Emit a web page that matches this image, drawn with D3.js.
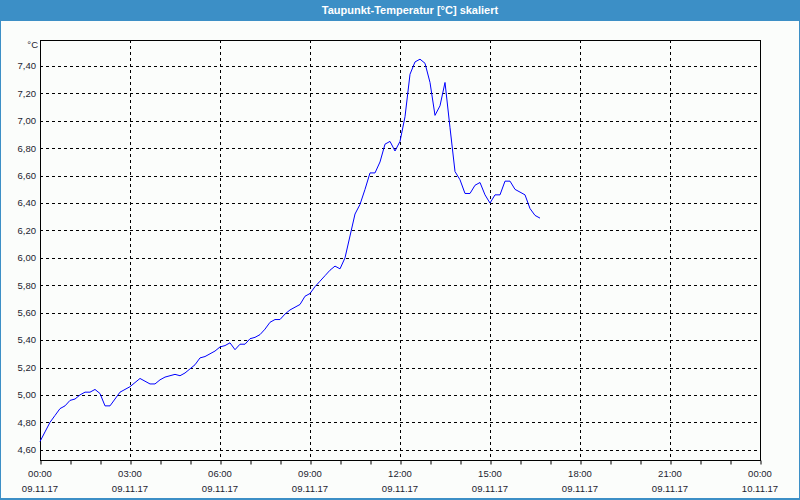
<!DOCTYPE html>
<html><head><meta charset="utf-8">
<script src="https://cdn.jsdelivr.net/npm/d3@7"></script>
<style>
html,body{margin:0;padding:0;background:#fff;}
svg{display:block;}
text{font-family:"Liberation Sans",Arial,sans-serif;}
</style></head>
<body><svg id="chart" width="800" height="500"></svg>
<script>
const title = "Taupunkt-Temperatur [°C] skaliert";
const unitLabel = "°C";
// time in minutes after 09.11.17 00:00
const minutes = [0,10,20,30,40,50,60,70,80,90,100,110,120,130,140,150,160,170,180,190,200,210,220,230,240,250,260,270,280,290,300,310,320,330,340,350,360,370,380,390,400,410,420,430,440,450,460,470,480,490,500,510,520,530,540,550,560,570,580,590,600,610,620,630,640,650,660,670,680,690,700,710,720,730,740,750,760,770,780,790,800,810,820,830,840,850,860,870,880,890,900,910,920,930,940,950,960,970,980,990,1000];
const dewPoint = [4.66,4.73,4.80,4.85,4.90,4.92,4.96,4.97,5.00,5.02,5.02,5.04,5.01,4.92,4.92,4.97,5.02,5.04,5.06,5.09,5.12,5.10,5.08,5.08,5.11,5.13,5.14,5.15,5.14,5.16,5.19,5.22,5.27,5.28,5.30,5.32,5.35,5.36,5.38,5.33,5.37,5.37,5.41,5.42,5.44,5.48,5.53,5.55,5.55,5.59,5.62,5.64,5.66,5.72,5.74,5.79,5.83,5.87,5.91,5.94,5.92,6.00,6.16,6.32,6.39,6.50,6.62,6.62,6.70,6.83,6.85,6.78,6.85,7.03,7.34,7.43,7.45,7.42,7.28,7.04,7.11,7.28,6.95,6.63,6.57,6.47,6.47,6.53,6.55,6.46,6.40,6.46,6.46,6.56,6.56,6.50,6.48,6.46,6.36,6.31,6.29];
const yTicks = [4.6,4.8,5.0,5.2,5.4,5.6,5.8,6.0,6.2,6.4,6.6,6.8,7.0,7.2,7.4];
const xTickHours = [0,3,6,9,12,15,18,21,24];
const xTimeLabels = ["00:00","03:00","06:00","09:00","12:00","15:00","18:00","21:00","00:00"];
const xDateLabels = ["09.11.17","09.11.17","09.11.17","09.11.17","09.11.17","09.11.17","09.11.17","09.11.17","10.11.17"];
const minorHours = d3.range(0,25);

const svg = d3.select("#chart");
const W=800,H=500;
const L=40,R=760,T=40,B=460;

// frame
svg.append("rect").attr("x",0).attr("y",0).attr("width",W).attr("height",H).attr("fill","#3c8fc6");
svg.append("rect").attr("x",1).attr("y",21).attr("width",W-2).attr("height",H-23).attr("fill","#fbfdfb");
svg.append("text").attr("x",410).attr("y",14).attr("text-anchor","middle")
  .attr("fill","#fff").attr("font-size","11px").attr("font-weight","bold").text(title);

const x = d3.scaleLinear().domain([0,24]).range([L,R]);
const y = d3.scaleLinear().domain([4.525,7.59]).range([B,T]);

const g = svg.append("g");
// horizontal grid
g.selectAll(".hg").data(yTicks).join("line")
  .attr("x1",L).attr("x2",R).attr("y1",d=>Math.round(y(d))+0.5).attr("y2",d=>Math.round(y(d))+0.5)
  .attr("stroke","#000").attr("stroke-width",1).attr("stroke-dasharray","3,3");
// vertical grid
g.selectAll(".vg").data(xTickHours.slice(1,-1)).join("line")
  .attr("x1",d=>Math.round(x(d))+0.5).attr("x2",d=>Math.round(x(d))+0.5).attr("y1",T).attr("y2",B)
  .attr("stroke","#000").attr("stroke-width",1).attr("stroke-dasharray","3,3");

// x axis minor ticks
const xAxis = d3.axisBottom(x).tickValues(minorHours).tickSize(4).tickFormat("");
const ax = svg.append("g").attr("transform",`translate(0.5,${B+0.5})`).call(xAxis);
ax.select(".domain").remove();
ax.selectAll("line").attr("stroke","#000");

// plot border
svg.append("rect").attr("x",L+0.5).attr("y",T+0.5).attr("width",R-L).attr("height",B-T)
  .attr("fill","none").attr("stroke","#000").attr("stroke-width",1);

// y labels
svg.selectAll(".yl").data(yTicks).join("text")
  .attr("x",36).attr("y",d=>y(d)).attr("dy","0.35em").attr("text-anchor","end")
  .attr("font-size","9.5px").attr("fill","#1c1c30").text(d=>d.toFixed(2).replace(".",","));
svg.append("text").attr("x",38).attr("y",48).attr("text-anchor","end")
  .attr("font-size","9.5px").attr("fill","#1c1c30").text(unitLabel);

// x labels
svg.selectAll(".xt").data(xTickHours).join("text")
  .attr("x",d=>x(d)).attr("y",477).attr("text-anchor","middle")
  .attr("font-size","9.5px").attr("fill","#1c1c30").text((d,i)=>xTimeLabels[i]);
svg.selectAll(".xd").data(xTickHours).join("text")
  .attr("x",d=>x(d)).attr("y",492).attr("text-anchor","middle")
  .attr("font-size","9.5px").attr("fill","#1c1c30").text((d,i)=>xDateLabels[i]);

// line
const pts = minutes.map((m,i)=>[m/60,dewPoint[i]]);
svg.append("path").datum(pts)
  .attr("d",d3.line().x(d=>x(d[0])).y(d=>y(d[1])))
  .attr("fill","none").attr("stroke","#0000ff").attr("stroke-width",1);
</script></body></html>
